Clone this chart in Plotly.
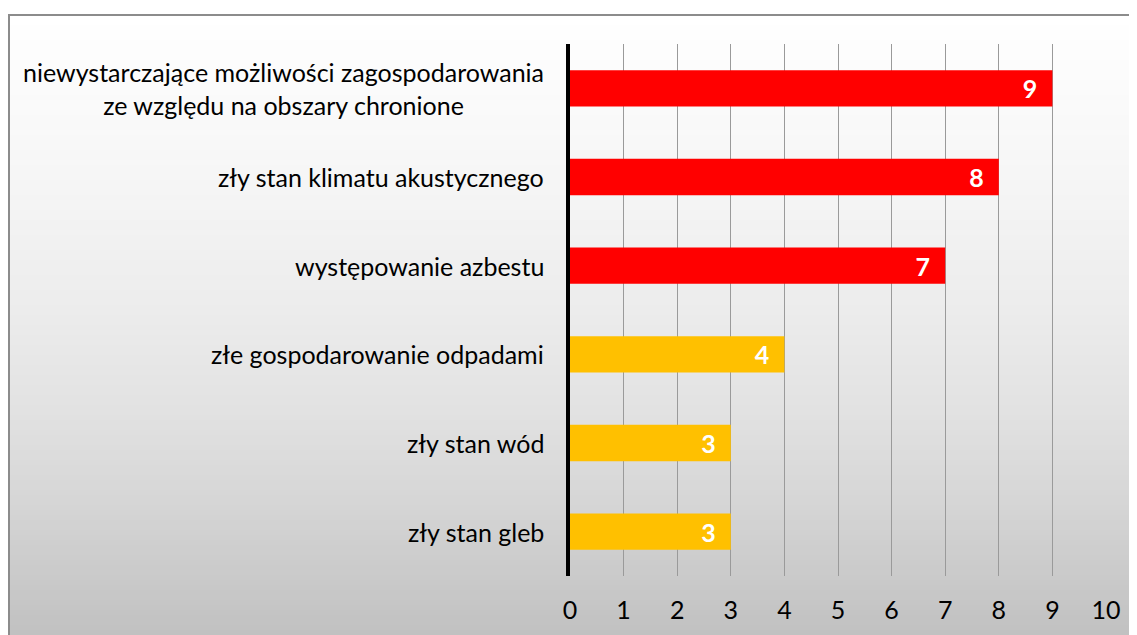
import plotly.graph_objects as go
import numpy as np

categories = [
    "niewystarczające możliwości zagospodarowania<br>ze względu na obszary chronione",
    "zły stan klimatu akustycznego",
    "występowanie azbestu",
    "złe gospodarowanie odpadami",
    "zły stan wód",
    "zły stan gleb",
]
values = [9, 8, 7, 4, 3, 3]
bar_colors = ["#FF0000", "#FF0000", "#FF0000", "#FFC000", "#FFC000", "#FFC000"]
x_ticks = list(range(0, 11))

OFF = 8  # page body margin
W, H = 1137 - OFF, 635 - OFF
L, R, T, B = 570 - OFF, 1106 - OFF, 44 - OFF, 576 - OFF
FONT = "Lato"
FS = 25

fig = go.Figure()
fig.add_trace(go.Bar(
    y=categories, x=values, orientation="h",
    marker=dict(color=bar_colors, line=dict(width=0)),
    width=0.41,
    texttemplate="%{x}&nbsp;&nbsp;",
    textposition="inside", insidetextanchor="end",
    textfont=dict(color="white", size=FS, family=FONT, weight="bold"),
    hoverinfo="skip",
))

# convert image pixel coords to paper coords
def px2x(p):
    return (p - OFF - L) / (R - L)

def py2y(p):
    return (B - (p - OFF)) / (B - T)

# gradient background
stops_y = [15, 160, 310, 410, 500, 620, 660]
stops_c = [255, 247, 236, 226, 214, 195, 190]
shapes = []
step = 5
for y0 in range(15, 660, step):
    c = int(round(np.interp(y0 + step / 2, stops_y, stops_c)))
    col = f"rgb({c},{c},{c})"
    shapes.append(dict(type="rect", xref="paper", yref="paper", layer="below",
                       x0=px2x(8), x1=px2x(1160), y0=py2y(y0), y1=py2y(y0 + step + 1),
                       fillcolor=col, line=dict(width=0)))
shapes.append(dict(type="rect", xref="paper", yref="paper", layer="below",
                   x0=px2x(9), x1=px2x(1170), y0=py2y(15), y1=py2y(700),
                   fillcolor="rgba(0,0,0,0)", line=dict(color="#8c8c8c", width=2)))

annotations = []
for cat in categories:
    annotations.append(dict(
        x=0, xref="paper", y=cat, yref="y", xanchor="right", xshift=-24,
        text=cat, showarrow=False, align="center",
        font=dict(family=FONT, size=FS, color="#000000"),
    ))

fig.update_layout(
    width=W, height=H,
    margin=dict(l=L, r=W - R, t=T, b=H - B, pad=0),
    paper_bgcolor="white", plot_bgcolor="rgba(0,0,0,0)",
    showlegend=False, bargap=0.59,
    shapes=shapes, annotations=annotations,
    font=dict(family=FONT, size=FS, color="#000000"),
    xaxis=dict(range=[0, 10], tickvals=x_ticks, showgrid=True, gridcolor="#9a9a9a",
               gridwidth=1, zeroline=False, showline=False, ticks="",
               ticklabelstandoff=17, tickfont=dict(size=FS, family=FONT), fixedrange=True),
    yaxis=dict(categoryorder="array", categoryarray=categories, autorange="reversed",
               showticklabels=False, showgrid=False, zeroline=False,
               showline=True, linecolor="black", linewidth=4, ticks="", fixedrange=True),
)

fig.write_html("out.html")
